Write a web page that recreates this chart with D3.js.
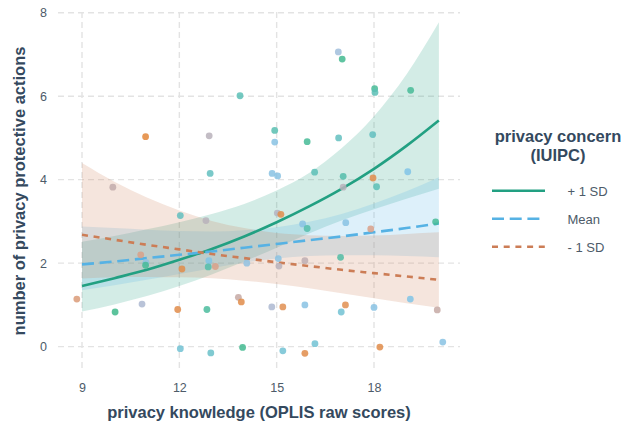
<!DOCTYPE html>
<html>
<head>
<meta charset="utf-8">
<script src="https://cdn.jsdelivr.net/npm/d3@7"></script>
<style>
  body { margin: 0; background: #fff; }
  svg { display: block; font-family: 'Liberation Sans', Arial, sans-serif; }
</style>
</head>
<body>
<svg width="631" height="425"></svg>
<script>
// model predictions at each knowledge score
const xGrid = [9, 10, 11, 12, 13, 14, 15, 16, 17, 18, 19, 20];

const fitHigh = [1.45, 1.64, 1.84, 2.08, 2.34, 2.64, 2.98, 3.36, 3.78, 4.26, 4.81, 5.42];
const loHigh = [0.84, 1.01, 1.21, 1.45, 1.73, 2.04, 2.37, 2.71, 3.02, 3.29, 3.54, 3.78];
const hiHigh = [2.51, 2.65, 2.81, 2.98, 3.18, 3.42, 3.74, 4.16, 4.75, 5.52, 6.52, 7.77];

const fitMean = [1.97, 2.04, 2.12, 2.2, 2.28, 2.37, 2.46, 2.55, 2.64, 2.74, 2.84, 2.95];
const loMean = [1.35, 1.47, 1.6, 1.74, 1.88, 2.01, 2.11, 2.17, 2.19, 2.19, 2.17, 2.14];
const hiMean = [2.88, 2.84, 2.8, 2.77, 2.76, 2.79, 2.86, 2.99, 3.18, 3.43, 3.72, 4.06];

const fitLow = [2.68, 2.56, 2.44, 2.33, 2.22, 2.12, 2.02, 1.93, 1.84, 1.76, 1.68, 1.6];
const loLow = [1.63, 1.66, 1.67, 1.66, 1.64, 1.58, 1.5, 1.4, 1.28, 1.16, 1.04, 0.93];
const hiLow = [4.4, 3.95, 3.57, 3.26, 3.01, 2.84, 2.72, 2.67, 2.65, 2.66, 2.7, 2.74];

// jittered observations
const knowledge = [8.84, 10.02, 10.85, 10.81, 10.97, 10.96, 9.95, 10.96, 12.92, 12.95,
  12.03, 12.82, 12.91, 12.89, 13.11, 12.08, 11.95, 12.85, 12.03, 12.97,
  13.87, 13.82, 13.91, 13.95, 14.08, 14.94, 14.94, 14.86, 15.03, 15.02,
  15.13, 15.94, 16.17, 16.9, 17.02, 16.91, 17.05, 17.05, 18.02, 18.03,
  17.96, 17.97, 18.08, 19.13, 19.04, 15.8, 15.94, 17.13, 17.9, 19.9,
  15.05, 15.07, 15.87, 16.97, 14.85, 15.19, 15.87, 17.12, 16.99, 18.0,
  19.12, 19.95, 15.19, 16.18, 15.87, 18.18, 20.12];
const actions = [1.14, 0.83, 1.02, 2.2, 2.02, 1.95, 3.82, 5.03, 5.05, 4.15,
  3.14, 3.02, 2.06, 1.91, 1.92, 1.86, 0.89, 0.89, -0.05, -0.15,
  6.01, 1.18, 1.07, -0.02, 2.0, 5.18, 4.9, 4.15, 4.09, 3.2,
  3.17, 4.91, 4.18, 7.06, 6.89, 5.0, 4.08, 3.82, 6.18, 6.09,
  5.08, 4.04, 3.83, 6.14, 4.19, 2.94, 2.83, 2.97, 2.82, 2.99,
  2.11, 1.93, 2.06, 2.14, 0.95, 0.95, 1.0, 1.0, 0.83, 0.94,
  1.14, 0.88, -0.1, 0.07, -0.16, -0.01, 0.11];
const concern = [-1.2, 1.8, 0, -1, 0.4, 1.6, -0.5, -2, -0.3, 1.0,
  1.0, -0.3, 0.6, 1.3, -1, -1.8, -1.8, 1.5, 0.8, 0.9,
  1.1, -0.6, -1.8, 1.7, 0.4, 1.2, 0.5, 0.5, 0.5, -0.2,
  -1.8, 1.6, 1.1, 0.2, 1.7, 1.0, 1.3, -0.3, 1.6, 1.1,
  1.0, -1.8, 1.1, 1.6, 0.6, 0.5, 1.3, 0.5, -1, 1.6,
  0.5, -0.3, -0.4, 1.4, 0, -1.7, 0.5, -1.7, 0.8, 0.5,
  0.6, -0.6, 0.8, 0.8, -1.8, -1.8, 0.5];

const xTicks = [9, 12, 15, 18];
const yTicks = [0, 2, 4, 6, 8];
const groups = ['+ 1 SD', 'Mean', '- 1 SD'];

const series = [
  { name: groups[0], fit: fitHigh, lo: loHigh, hi: hiHigh, color: '#22a082', dash: null },
  { name: groups[1], fit: fitMean, lo: loMean, hi: hiMean, color: '#56b2e4', dash: '12,5.7' },
  { name: groups[2], fit: fitLow, lo: loLow, hi: hiLow, color: '#cc7d56', dash: '6,5.7' }
];

const svg = d3.select('svg');
const panel = { left: 58, right: 460, top: 12, bottom: 370 };

const xScale = d3.scaleLinear().domain([8.26, 20.651]).range([panel.left, panel.right]);
const yScale = d3.scaleLinear().domain([-0.56, 8.017]).range([panel.bottom, panel.top]);

const pointColor = d3
  .scaleLinear()
  .domain([-2, -1, -0.4, 0.1, 0.6, 1.1, 1.8])
  .range(['#e3873a', '#d9a088', '#bdaeb3', '#a9bcd9', '#80c4e6', '#5cbfb6', '#3fb98b']);

// grid
const grid = svg.append('g').attr('stroke', '#e3e3e3').attr('stroke-width', 1.4).attr('stroke-dasharray', '6,4');
grid.selectAll('.hgrid').data(yTicks).enter().append('line')
  .attr('x1', panel.left).attr('x2', panel.right)
  .attr('y1', d => yScale(d)).attr('y2', d => yScale(d));
grid.selectAll('.vgrid').data(xTicks).enter().append('line')
  .attr('y1', panel.top).attr('y2', panel.bottom)
  .attr('x1', d => xScale(d)).attr('x2', d => xScale(d));

// ribbons
const area = s => d3.area()
  .x((d, i) => xScale(xGrid[i]))
  .y0((d, i) => yScale(s.lo[i]))
  .y1((d, i) => yScale(s.hi[i]))
  .curve(d3.curveMonotoneX)(xGrid);

svg.append('g').selectAll('path').data(series).enter().append('path')
  .attr('d', area)
  .attr('fill', s => s.color)
  .attr('fill-opacity', 0.2);

// fitted lines
const line = s => d3.line()
  .x((d, i) => xScale(xGrid[i]))
  .y((d, i) => yScale(s.fit[i]))
  .curve(d3.curveMonotoneX)(xGrid);

svg.append('g').selectAll('path').data(series).enter().append('path')
  .attr('d', line)
  .attr('fill', 'none')
  .attr('stroke', s => s.color)
  .attr('stroke-width', 2.6)
  .attr('stroke-dasharray', s => s.dash);

// observations
svg.append('g').selectAll('circle').data(knowledge).enter().append('circle')
  .attr('cx', d => xScale(d))
  .attr('cy', (d, i) => yScale(actions[i]))
  .attr('r', 3.4)
  .attr('fill', (d, i) => pointColor(concern[i]))
  .attr('fill-opacity', 0.85);

// axes (labels only)
const xAxis = d3.axisBottom(xScale).tickValues(xTicks).tickSize(0).tickPadding(0);
svg.append('g')
  .attr('transform', 'translate(0, 383)')
  .call(xAxis)
  .call(g => g.select('.domain').remove())
  .call(g => g.selectAll('text').attr('fill', '#4d5b69').attr('font-size', 12.5).attr('dy', '0.71em')
    .attr('font-family', null));

const yAxis = d3.axisLeft(yScale).tickValues(yTicks).tickSize(0).tickPadding(0);
svg.append('g')
  .attr('transform', 'translate(47, 0)')
  .call(yAxis)
  .call(g => g.select('.domain').remove())
  .call(g => g.selectAll('text').attr('fill', '#4d5b69').attr('font-size', 12.5).attr('font-family', null));

svg.append('text')
  .text('privacy knowledge (OPLIS raw scores)')
  .attr('x', (panel.left + panel.right) / 2)
  .attr('y', 418)
  .attr('text-anchor', 'middle')
  .attr('font-size', 16.5)
  .attr('font-weight', 'bold')
  .attr('fill', '#34495e');

svg.append('text')
  .text('number of privacy protective actions')
  .attr('transform', `translate(25, ${(panel.top + panel.bottom) / 2}) rotate(-90)`)
  .attr('text-anchor', 'middle')
  .attr('font-size', 16.5)
  .attr('font-weight', 'bold')
  .attr('fill', '#34495e');

// legend
const legend = svg.append('g').attr('transform', 'translate(492, 0)');
legend.append('text')
  .attr('x', 66).attr('y', 141.5)
  .attr('text-anchor', 'middle')
  .attr('font-size', 16.5).attr('font-weight', 'bold').attr('fill', '#34495e')
  .text('privacy concern');
legend.append('text')
  .attr('x', 66).attr('y', 160.5)
  .attr('text-anchor', 'middle')
  .attr('font-size', 16.5).attr('font-weight', 'bold').attr('fill', '#34495e')
  .text('(IUIPC)');

const keys = legend.selectAll('.key').data(series).enter().append('g')
  .attr('transform', (d, i) => `translate(0, ${190.7 + i * 28})`);
keys.append('line')
  .attr('x1', 0).attr('x2', 53)
  .attr('stroke', s => s.color)
  .attr('stroke-width', 2.6)
  .attr('stroke-dasharray', s => s.dash);
keys.append('text')
  .attr('x', 75.5).attr('y', 5.5)
  .attr('font-size', 13)
  .attr('fill', '#4d5b69')
  .text(s => s.name);
</script>
</body>
</html>
